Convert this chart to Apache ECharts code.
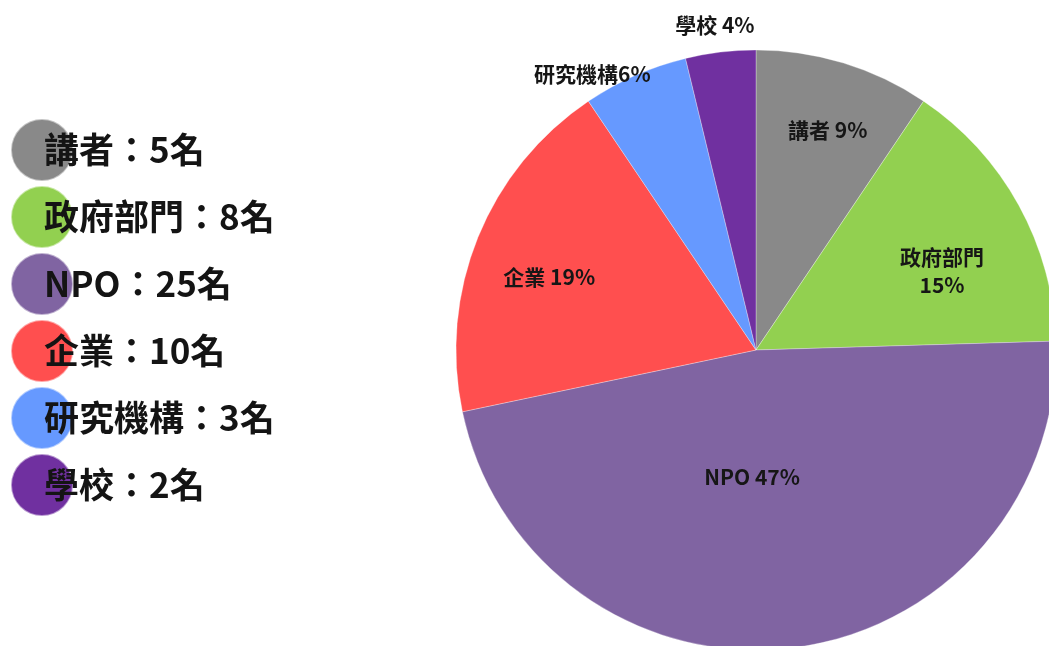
<!DOCTYPE html>
<html>
<head>
<meta charset="utf-8">
<script src="https://cdn.jsdelivr.net/npm/echarts@6/dist/echarts.min.js"></script>
<style>
  html, body { margin: 0; padding: 0; background: #fff; }
  #chart { width: 1049px; height: 646px; }
</style>
</head>
<body>
<div id="chart"></div>
<script>
// participant groups and head counts
const categories = ["講者", "政府部門", "NPO", "企業", "研究機構", "學校"];
const counts = [5, 8, 25, 10, 3, 2];

const colors = ["#898989", "#92d050", "#8064a2", "#ff4f4f", "#6699ff", "#7030a0"];
// nudges from the default inside-label spot
const labelOffsets = [[27, -74], [52, -5], [-22, -25], [-65, -15], [-102, -136], [-23, -173]];

const cjk = '"Noto Sans CJK TC", "Noto Sans CJK SC", sans-serif';

const chart = echarts.init(document.getElementById("chart"));

function labelText(p) {
  let sep = " ";
  if (p.name === "政府部門") sep = "\n";
  if (p.name === "研究機構") sep = "";
  return p.name + sep + Math.round(p.percent) + "%";
}

chart.setOption({
  backgroundColor: "#fff",
  animation: false,
  color: colors,
  legend: {
    orient: "vertical",
    left: 10,
    top: 118,
    padding: 0,
    icon: "circle",
    itemWidth: 62,
    itemHeight: 62,
    itemGap: 3,
    selectedMode: false,
    formatter: (name) => name + "：" + counts[categories.indexOf(name)] + "名",
    textStyle: {
      fontFamily: cjk,
      fontSize: 35,
      fontWeight: "bold",
      color: "#141414",
      padding: [0, 0, 0, -34],
    },
  },
  series: [
    {
      type: "pie",
      center: [756, 350],
      radius: 300,
      startAngle: 90,
      clockwise: true,
      percentPrecision: 0,
      itemStyle: { borderColor: "rgba(255,255,255,0.5)", borderWidth: 0.6 },
      label: {
        show: true,
        position: "inside",
        formatter: labelText,
        fontFamily: cjk,
        fontSize: 21,
        fontWeight: "bold",
        color: "#161616",
        lineHeight: 28,
      },
      labelLine: { show: false },
      emphasis: { disabled: true },
      data: categories.map((name, i) => ({
        name,
        value: counts[i],
        label: { offset: labelOffsets[i] },
      })),
    },
  ],
});
</script>
</body>
</html>
